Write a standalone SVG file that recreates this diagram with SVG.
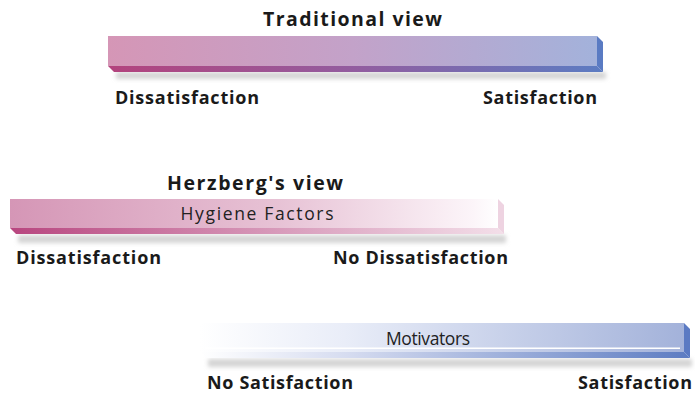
<svg xmlns="http://www.w3.org/2000/svg" width="695" height="396" viewBox="0 0 695 396">
  <style>
    .lbl { font-family: "Open Sans", "Noto Sans", "Liberation Sans", sans-serif; font-size: 18px; font-weight: bold; fill: #1a1a1a; }
    .title { font-size: 19.5px; }
    .inbar { font-family: "Open Sans", "Noto Sans", "Liberation Sans", sans-serif; font-size: 17.5px; font-weight: normal; fill: #222; }
    .shadow { fill: #d4d4d4; filter: url(#blur); }
  </style>
  <defs>
    <filter id="blur" x="-5%" y="-100%" width="110%" height="300%">
      <feGaussianBlur stdDeviation="2"/>
    </filter>
    <linearGradient id="tradFront" x1="0" y1="0" x2="1" y2="0">
      <stop offset="0" stop-color="#d596b6"/>
      <stop offset="0.5" stop-color="#c3a2c9"/>
      <stop offset="1" stop-color="#a3b2db"/>
    </linearGradient>
    <linearGradient id="tradBottom" x1="0" y1="0" x2="1" y2="0">
      <stop offset="0" stop-color="#b3437d"/>
      <stop offset="0.5" stop-color="#925d9f"/>
      <stop offset="1" stop-color="#5c7cc2"/>
    </linearGradient>
    <linearGradient id="hygFront" x1="0" y1="0" x2="1" y2="0">
      <stop offset="0" stop-color="#d596b6"/>
      <stop offset="0.55" stop-color="#e7c2d5"/>
      <stop offset="0.95" stop-color="#fcf5f9"/>
      <stop offset="1" stop-color="#ffffff"/>
    </linearGradient>
    <linearGradient id="hygBottom" x1="0" y1="0" x2="1" y2="0">
      <stop offset="0" stop-color="#b8467f"/>
      <stop offset="0.5" stop-color="#d594b6"/>
      <stop offset="1" stop-color="#f3dfe9"/>
    </linearGradient>
    <linearGradient id="motFront" x1="0" y1="0" x2="1" y2="0">
      <stop offset="0" stop-color="#ffffff"/>
      <stop offset="0.3" stop-color="#e9edf8"/>
      <stop offset="1" stop-color="#a3b2da"/>
    </linearGradient>
    <linearGradient id="motBottom" x1="0" y1="0" x2="1" y2="0">
      <stop offset="0" stop-color="#ffffff"/>
      <stop offset="0.3" stop-color="#d6dcf0"/>
      <stop offset="1" stop-color="#5d7cc2"/>
    </linearGradient>
  </defs>

  <g id="connectors"/>

  <g id="traditional-view">
    <text class="lbl title" x="352.5" y="26" text-anchor="middle" textLength="179" lengthAdjust="spacing">Traditional view</text>
    <rect class="shadow" x="116" y="72" width="490" height="7"/>
    <polygon points="108,66 597,66 603,72 114,72" fill="url(#tradBottom)"/>
    <polygon points="597,36 603,42 603,72 597,66" fill="#5a7bc3"/>
    <rect x="108" y="36" width="489" height="30" fill="url(#tradFront)"/>
    <text class="lbl" x="115" y="104" textLength="144" lengthAdjust="spacing">Dissatisfaction</text>
    <text class="lbl" x="483" y="104" textLength="114" lengthAdjust="spacing">Satisfaction</text>
  </g>

  <g id="herzberg-hygiene">
    <text class="lbl title" x="255" y="190" text-anchor="middle" textLength="176" lengthAdjust="spacing">Herzberg's view</text>
    <rect class="shadow" x="18" y="235" width="488" height="8"/>
    <polygon points="10,228 498,228 504,234 16,234" fill="url(#hygBottom)"/>
    <polygon points="498,199 504,205 504,234 498,228" fill="#eed3e1"/>
    <rect x="10" y="199" width="488" height="29" fill="url(#hygFront)"/>
    <text class="inbar" x="257" y="220" text-anchor="middle" textLength="153" lengthAdjust="spacing">Hygiene Factors</text>
    <text class="lbl" x="16" y="264" textLength="145" lengthAdjust="spacing">Dissatisfaction</text>
    <text class="lbl" x="333" y="264" textLength="175" lengthAdjust="spacing">No Dissatisfaction</text>
  </g>

  <g id="herzberg-motivators">
    <rect class="shadow" x="208" y="359" width="484" height="8"/>
    <polygon points="200,352 684,352 690,358 206,358" fill="url(#motBottom)"/>
    <polygon points="684,323 690,329 690,358 684,352" fill="#5b7ac3"/>
    <rect x="200" y="323" width="484" height="29" fill="url(#motFront)"/>
    <rect x="205" y="347.5" width="475" height="1.5" fill="#ffffff"/>
    <text class="inbar" x="428" y="345" text-anchor="middle" textLength="84" lengthAdjust="spacing">Motivators</text>
    <text class="lbl" x="207" y="389" textLength="146" lengthAdjust="spacing">No Satisfaction</text>
    <text class="lbl" x="578" y="389" textLength="114" lengthAdjust="spacing">Satisfaction</text>
  </g>
</svg>
